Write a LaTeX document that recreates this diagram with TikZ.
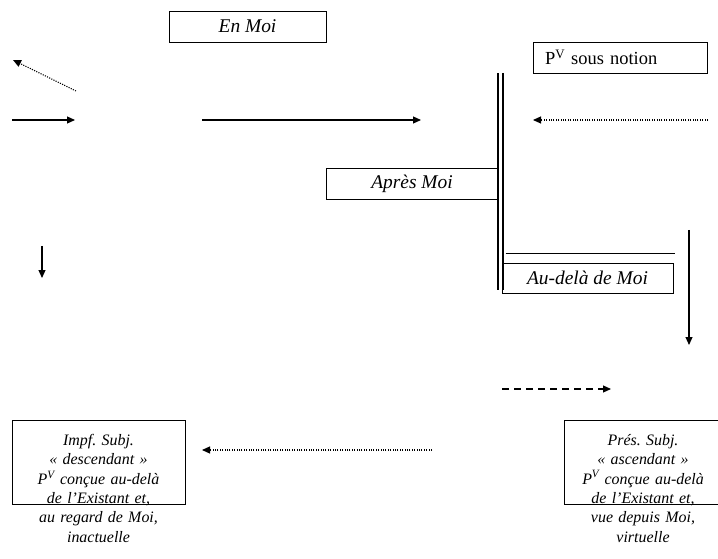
\documentclass[tikz,border=0pt]{standalone}
\usepackage{fontspec}
\setmainfont{Liberation Serif}
\usetikzlibrary{arrows.meta}
\begin{document}
\frenchspacing
\begin{tikzpicture}[x=1bp,y=-1bp,
  labelbox/.style={draw, line width=0.8bp, inner sep=0pt, minimum height=31bp,
    font=\fontsize{19.5}{22}\selectfont\itshape},
  tallbox/.style={draw, line width=0.8bp, anchor=north, align=center,
    inner xsep=4bp, inner ysep=14bp, text depth=45bp,
    font=\fontsize{16}{19.4}\selectfont\itshape},
  arr/.style={-{Triangle[length=8bp,width=7bp]}, line width=1.1bp},
  dotarr/.style={arr, dash pattern=on 1.1bp off 1.3bp},
  dasharr/.style={arr, dash pattern=on 7bp off 5bp},
  rule/.style={double, line width=2bp, double distance=3bp}
]
\useasboundingbox (0,0) rectangle (718,559);
\fill[white] (0,0) rectangle (718,559);
\clip (0,0) rectangle (718,559);

% labelled boxes
\node[labelbox, minimum width=157bp] (enmoi) at (247.5,26.5) {En Moi};
\node[labelbox, font=\fontsize{18.5}{21}\selectfont, text width=150bp, align=left,
  inner xsep=12bp] (pv) at (620,57.5) {P\textsuperscript{V} sous notion};
\node[labelbox, minimum width=172bp] (apres) at (412,183.5) {Après Moi};
\node[labelbox, minimum width=171bp, minimum height=30bp] (audela) at (587.5,278) {Au-delà de Moi};
\draw[line width=0.6bp] ([xshift=4bp,yshift=9bp]audela.north west) -- ([xshift=2bp,yshift=9bp]audela.north east);

\node[tallbox, text width=165bp] (impf) at (98.5,420)
  {Impf. Subj.\\« descendant »\\P\textsuperscript{V} conçue au-delà\\de l'Existant et,\\au regard de Moi,\\inactuelle};
\node[tallbox, text width=150bp] (pres) at (643,420)
  {Prés. Subj.\\« ascendant »\\P\textsuperscript{V} conçue au-delà\\de l'Existant et,\\vue depuis Moi,\\virtuelle};

% vertical double rule
\coordinate (ruletop) at (500,73);
\coordinate (rulebot) at (500,290);
\draw[rule] (ruletop) -- (rulebot);

% arrow end points
\coordinate (a1s) at (76,91);   \coordinate (a1e) at (13,60);
\coordinate (a2s) at (12,120);  \coordinate (a2e) at (75,120);
\coordinate (a3s) at (202,120); \coordinate (a3e) at (421,120);
\coordinate (a4s) at (708,120); \coordinate (a4e) at (533,120);
\coordinate (a5s) at (42,246);  \coordinate (a5e) at (42,278);
\coordinate (a6s) at (689,230); \coordinate (a6e) at (689,345);
\coordinate (a7s) at (502,389); \coordinate (a7e) at (611,389);
\coordinate (a8s) at (432,450); \coordinate (a8e) at (202,450);

\draw[dotarr] (a1s) -- (a1e);
\draw[arr] (a2s) -- (a2e);
\draw[arr] (a3s) -- (a3e);
\draw[dotarr] (a4s) -- (a4e);
\draw[arr] (a5s) -- (a5e);
\draw[arr] (a6s) -- (a6e);
\draw[dasharr] (a7s) -- (a7e);
\draw[dotarr] (a8s) -- (a8e);
\end{tikzpicture}
\end{document}
